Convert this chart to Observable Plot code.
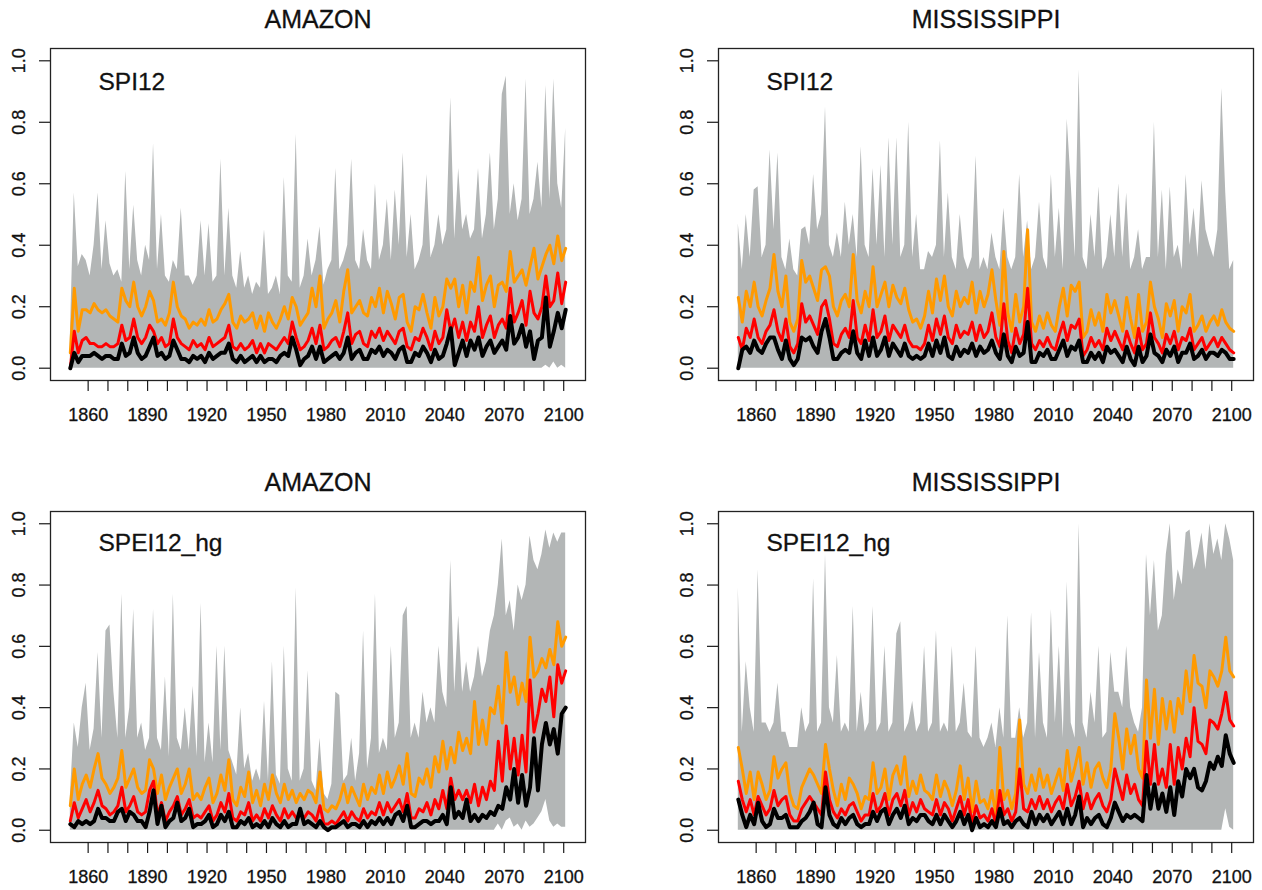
<!DOCTYPE html>
<html>
<head>
<meta charset="utf-8">
<script src="https://cdn.jsdelivr.net/npm/d3@7"></script>
<script src="https://cdn.jsdelivr.net/npm/@observablehq/plot@0.6"></script>
<style>
  html, body { margin: 0; padding: 0; background: #fff; }
  #chart { position: relative; width: 1262px; height: 890px; background: #fff; }
  #chart > svg { position: absolute; }
</style>
</head>
<body>
<div id="chart"></div>
<script>
// ---------------- data (years 1851..2101, every 2nd year) ----------------
const years = d3.range(1851, 2102, 2);
const xTicks = d3.range(1860, 2101, 10);
const xLabels = [1860, 1890, 1920, 1950, 1980, 2010, 2040, 2070, 2100];
const yTicks = [0, 0.2, 0.4, 0.6, 0.8, 1.0];
const yLabels = ["0.0", "0.2", "0.4", "0.6", "0.8", "1.0"];

// AMAZON SPI12
const amzSpiHi = [
  .10,.57,.33,.37,.35,.30,.40,.57,.32,.48,
  .34,.30,.32,.28,.64,.32,.53,.35,.30,.40,
  .35,.73,.32,.50,.30,.28,.35,.32,.52,.30,
  .30,.27,.30,.48,.30,.47,.28,.30,.68,.30,
  .52,.30,.26,.38,.26,.30,.24,.28,.26,.45,
  .24,.26,.30,.24,.62,.30,.28,.76,.26,.30,
  .42,.30,.35,.46,.27,.32,.35,.65,.32,.35,
  .40,.68,.35,.32,.45,.35,.32,.60,.35,.40,
  .55,.35,.58,.40,.70,.36,.50,.32,.35,.40,
  .63,.36,.40,.50,.40,.45,.88,.42,.65,.45,
  .50,.42,.45,.65,.42,.50,.70,.45,.55,.89,
  .95,.50,.60,.48,.55,.94,.50,.55,.67,.52,
  .92,.55,.94,.60,.52,.78];
const amzSpiLo = [
  0,0,0,0,0,0,0,0,0,0,
  0,0,0,0,0,0,0,0,0,0,
  0,0,0,0,0,0,0,0,0,0,
  0,0,0,0,0,0,0,0,0,0,
  0,0,0,0,0,0,0,0,0,0,
  0,0,0,0,0,0,0,0,0,0,
  0,0,0,0,0,0,0,0,0,0,
  0,0,0,0,0,0,0,0,0,0,
  0,0,0,0,0,0,0,0,0,0,
  0,0,0,0,0,0,0,0,0,0,
  0,0,0,0,0,0,0,0,0,0,
  0,0,0,0,0,0,0,0,0,0,
  .01,0,.02,0,.01,0];
const amzSpiOrange = [
  .05,.26,.12,.19,.19,.18,.21,.19,.18,.19,
  .17,.16,.15,.26,.22,.20,.28,.20,.17,.20,
  .25,.22,.15,.16,.14,.18,.28,.20,.17,.16,
  .13,.15,.14,.16,.14,.19,.15,.16,.19,.21,
  .24,.15,.13,.17,.15,.16,.18,.13,.17,.12,
  .18,.15,.13,.16,.20,.16,.23,.20,.14,.16,
  .18,.26,.20,.30,.13,.16,.18,.22,.15,.25,
  .32,.18,.20,.22,.18,.17,.23,.20,.26,.18,
  .25,.21,.16,.23,.24,.15,.12,.20,.19,.24,
  .18,.13,.23,.17,.20,.29,.26,.29,.20,.27,
  .18,.28,.25,.36,.22,.27,.30,.20,.27,.28,
  .25,.38,.28,.30,.32,.27,.33,.39,.29,.33,
  .37,.40,.34,.43,.35,.39];
const amzSpiRed = [
  .00,.12,.05,.09,.10,.08,.08,.07,.07,.08,
  .07,.07,.08,.14,.09,.10,.16,.10,.08,.10,
  .14,.12,.08,.10,.07,.08,.16,.10,.08,.07,
  .06,.09,.07,.08,.06,.10,.07,.08,.09,.10,
  .14,.07,.06,.08,.06,.07,.09,.05,.08,.05,
  .08,.07,.06,.08,.10,.08,.15,.10,.06,.07,
  .09,.13,.08,.14,.06,.07,.09,.10,.07,.12,
  .18,.08,.11,.12,.08,.07,.12,.10,.13,.09,
  .12,.10,.08,.12,.13,.07,.06,.10,.09,.13,
  .10,.06,.12,.08,.10,.19,.12,.16,.10,.15,
  .09,.15,.12,.20,.10,.14,.17,.10,.14,.16,
  .13,.26,.15,.18,.22,.14,.25,.18,.16,.20,
  .30,.20,.22,.31,.21,.28];
const amzSpiBlack = [
  .00,.05,.02,.04,.04,.04,.05,.04,.03,.04,
  .04,.03,.03,.08,.04,.05,.10,.05,.03,.04,
  .07,.10,.04,.05,.03,.04,.09,.06,.03,.03,
  .02,.04,.03,.04,.02,.05,.03,.04,.05,.05,
  .08,.03,.02,.04,.02,.03,.04,.02,.04,.02,
  .03,.03,.02,.04,.05,.04,.10,.06,.01,.03,
  .04,.07,.03,.07,.02,.03,.04,.05,.03,.05,
  .10,.03,.05,.06,.03,.03,.06,.05,.07,.04,
  .06,.05,.03,.06,.07,.02,.02,.05,.04,.07,
  .05,.02,.06,.03,.04,.08,.13,.01,.05,.09,
  .04,.09,.06,.10,.04,.07,.09,.05,.07,.09,
  .06,.17,.08,.10,.14,.07,.12,.03,.09,.10,
  .23,.07,.12,.18,.13,.19];

// MISSISSIPPI SPI12
const misSpiHi = [
  .47,.32,.50,.36,.58,.59,.36,.40,.71,.45,
  .70,.36,.32,.42,.32,.30,.45,.46,.40,.63,
  .45,.50,.85,.40,.36,.44,.36,.54,.40,.50,
  .36,.72,.40,.36,.65,.40,.66,.36,.75,.40,
  .75,.36,.40,.80,.36,.50,.32,.32,.38,.36,
  .40,.74,.36,.57,.36,.32,.50,.36,.32,.36,
  .69,.32,.36,.32,.44,.36,.32,.52,.36,.32,
  .36,.63,.36,.48,.32,.36,.54,.36,.32,.63,
  .36,.52,.32,.81,.60,.36,.97,.36,.32,.50,
  .36,.59,.32,.36,.50,.36,.60,.36,.57,.32,
  .36,.45,.32,.36,.36,.80,.36,.58,.32,.59,
  .36,.40,.32,.63,.40,.52,.36,.61,.45,.40,
  .36,.45,.91,.57,.32,.35];
const misSpiLo = [
  0,0,0,0,0,0,0,0,0,0,
  0,0,0,0,0,0,0,0,0,0,
  0,0,0,0,0,0,0,0,0,0,
  0,0,0,0,0,0,0,0,0,0,
  0,0,0,0,0,0,0,0,0,0,
  0,0,0,0,0,0,0,0,0,0,
  0,0,0,0,0,0,0,0,0,0,
  0,0,0,0,0,0,0,0,0,0,
  0,0,0,0,0,0,0,0,0,0,
  0,0,0,0,0,0,0,0,0,0,
  0,0,0,0,0,0,0,0,0,0,
  0,0,0,0,0,0,0,0,0,0,
  0,0,0,0,0,0];
const misSpiOrange = [
  .23,.15,.25,.20,.28,.20,.17,.22,.26,.37,
  .25,.20,.30,.15,.12,.16,.35,.28,.30,.26,
  .22,.32,.33,.30,.20,.17,.22,.24,.20,.37,
  .22,.18,.25,.20,.33,.20,.24,.28,.20,.27,
  .23,.21,.26,.19,.15,.16,.13,.17,.25,.18,
  .29,.22,.30,.20,.17,.25,.20,.23,.21,.28,
  .18,.25,.20,.24,.32,.22,.14,.38,.18,.12,
  .24,.15,.20,.45,.15,.12,.17,.13,.18,.14,
  .12,.20,.26,.17,.27,.25,.28,.10,.12,.19,
  .14,.18,.12,.24,.18,.22,.17,.12,.23,.16,
  .10,.24,.12,.15,.28,.20,.16,.10,.21,.17,
  .22,.12,.20,.18,.24,.12,.14,.17,.12,.15,
  .17,.14,.19,.15,.13,.12];
const misSpiRed = [
  .10,.06,.13,.10,.16,.10,.08,.12,.14,.19,
  .12,.09,.16,.07,.05,.08,.21,.15,.17,.14,
  .11,.20,.22,.16,.08,.07,.11,.13,.10,.22,
  .10,.08,.14,.09,.19,.10,.12,.17,.09,.14,
  .12,.10,.14,.09,.07,.07,.06,.08,.14,.09,
  .16,.11,.17,.10,.08,.14,.10,.12,.11,.15,
  .09,.14,.10,.12,.18,.10,.07,.21,.09,.05,
  .13,.08,.11,.26,.08,.06,.09,.07,.10,.07,
  .06,.11,.15,.09,.14,.13,.16,.04,.06,.10,
  .07,.09,.06,.13,.09,.12,.09,.06,.12,.08,
  .05,.13,.06,.08,.18,.10,.08,.05,.11,.08,
  .12,.06,.10,.09,.13,.06,.08,.10,.06,.08,
  .10,.07,.10,.08,.06,.05];
const misSpiBlack = [
  .00,.06,.07,.05,.09,.06,.05,.08,.10,.10,
  .06,.03,.09,.03,.01,.03,.10,.09,.10,.07,
  .05,.12,.16,.10,.03,.03,.05,.06,.05,.12,
  .05,.03,.09,.04,.10,.04,.06,.10,.04,.08,
  .06,.04,.08,.04,.03,.04,.03,.04,.08,.04,
  .09,.05,.10,.04,.03,.07,.04,.06,.05,.08,
  .04,.07,.05,.06,.09,.05,.03,.11,.04,.02,
  .07,.04,.05,.15,.02,.02,.05,.04,.06,.03,
  .03,.06,.09,.04,.07,.06,.09,.02,.02,.05,
  .03,.05,.02,.07,.05,.06,.04,.02,.07,.03,
  .01,.07,.02,.04,.11,.05,.04,.02,.06,.04,
  .07,.02,.05,.05,.08,.03,.04,.06,.03,.05,
  .05,.04,.06,.05,.03,.03];

// AMAZON SPEI12_hg
const amzSpeiHi = [
  .11,.35,.27,.40,.48,.26,.33,.58,.30,.65,
  .67,.45,.30,.77,.30,.40,.72,.30,.35,.26,
  .30,.72,.30,.26,.50,.24,.77,.30,.26,.40,
  .26,.47,.24,.74,.22,.35,.22,.60,.26,.60,
  .26,.22,.18,.40,.20,.25,.16,.20,.16,.42,
  .16,.55,.18,.15,.60,.20,.16,.79,.16,.20,
  .52,.16,.13,.30,.12,.10,.15,.45,.44,.16,
  .18,.30,.16,.25,.65,.20,.30,.77,.25,.30,
  .26,.60,.30,.35,.70,.73,.30,.35,.30,.45,
  .35,.40,.35,.60,.45,.40,.88,.45,.70,.45,
  .55,.45,.50,.60,.50,.55,.65,.70,.80,.95,
  .70,.75,.65,.80,.75,.80,.96,.88,.85,.90,
  .98,.92,.97,.94,.97,.97];
const amzSpeiLo = [
  0,0,0,0,0,0,0,0,0,0,
  0,0,0,0,0,0,0,0,0,0,
  0,0,0,0,0,0,0,0,0,0,
  0,0,0,0,0,0,0,0,0,0,
  0,0,0,0,0,0,0,0,0,0,
  0,0,0,0,0,0,0,0,0,0,
  0,0,0,0,0,0,0,0,0,0,
  0,0,0,0,0,0,0,0,0,0,
  0,0,0,0,0,0,0,0,0,0,
  0,0,0,0,0,0,0,0,0,0,
  0,0,0,0,0,0,0,0,.02,0,
  .03,.04,.01,.02,0,.03,.01,.02,.04,.06,
  .10,.03,.01,.02,.01,.01];
const amzSpeiOrange = [
  .08,.20,.10,.15,.18,.14,.20,.25,.17,.15,
  .12,.14,.17,.26,.14,.17,.20,.14,.12,.13,
  .23,.20,.12,.18,.10,.14,.17,.20,.12,.15,
  .20,.10,.12,.10,.14,.17,.09,.12,.18,.13,
  .23,.10,.08,.14,.11,.19,.09,.13,.08,.15,
  .10,.18,.12,.09,.15,.10,.13,.09,.12,.10,
  .13,.12,.09,.19,.07,.06,.08,.07,.10,.15,
  .09,.14,.11,.08,.15,.10,.14,.12,.18,.12,
  .19,.14,.17,.21,.15,.25,.12,.11,.17,.15,
  .20,.14,.24,.19,.29,.20,.27,.22,.32,.26,
  .30,.25,.42,.28,.36,.28,.40,.38,.47,.35,
  .58,.45,.50,.41,.48,.42,.63,.50,.52,.56,
  .53,.59,.54,.68,.60,.63];
const amzSpeiRed = [
  .03,.09,.04,.07,.10,.06,.09,.13,.08,.07,
  .05,.06,.08,.14,.06,.08,.11,.06,.05,.06,
  .13,.16,.05,.09,.03,.06,.08,.11,.05,.07,
  .10,.04,.05,.04,.06,.08,.03,.05,.09,.06,
  .12,.04,.03,.06,.05,.09,.03,.05,.03,.07,
  .04,.08,.05,.03,.07,.04,.06,.04,.05,.04,
  .06,.05,.03,.08,.02,.02,.03,.02,.04,.06,
  .03,.06,.04,.03,.07,.04,.06,.05,.09,.05,
  .09,.06,.08,.10,.06,.12,.04,.04,.07,.06,
  .09,.05,.10,.07,.13,.07,.17,.10,.13,.10,
  .13,.09,.15,.08,.14,.10,.16,.13,.29,.16,
  .34,.20,.30,.18,.31,.19,.49,.32,.38,.46,
  .42,.50,.37,.54,.48,.52];
const amzSpeiBlack = [
  .02,.01,.03,.02,.03,.02,.03,.07,.04,.04,
  .03,.03,.06,.07,.03,.06,.05,.03,.03,.01,
  .06,.13,.02,.08,.01,.03,.04,.09,.03,.04,
  .07,.01,.02,.02,.03,.05,.01,.02,.05,.03,
  .06,.01,.01,.03,.02,.04,.01,.02,.01,.03,
  .01,.04,.02,.01,.03,.01,.02,.02,.07,.02,
  .03,.02,.01,.03,.01,.00,.01,.01,.02,.03,
  .01,.02,.02,.01,.03,.01,.03,.02,.04,.02,
  .04,.02,.05,.06,.03,.08,.01,.01,.02,.03,
  .03,.02,.03,.03,.05,.02,.14,.04,.06,.04,
  .10,.03,.05,.03,.05,.04,.06,.05,.08,.07,
  .14,.10,.20,.09,.18,.08,.14,.30,.13,.28,
  .35,.28,.33,.25,.38,.40];

// MISSISSIPPI SPEI12_hg
const misSpeiHi = [
  .79,.32,.55,.40,.32,.85,.35,.35,.32,.35,
  .48,.32,.32,.27,.27,.27,.40,.32,.35,.82,
  .32,.35,.90,.40,.35,.57,.32,.35,.32,.73,
  .32,.45,.32,.35,.73,.32,.35,.60,.32,.35,
  .64,.68,.32,.35,.42,.32,.35,.60,.32,.35,
  .65,.32,.35,.32,.60,.32,.35,.48,.32,.30,
  .60,.30,.27,.30,.35,.27,.40,.30,.70,.30,
  .30,.40,.30,.35,.71,.30,.58,.35,.30,.72,
  .35,.60,.30,.81,.35,.30,1.0,.35,.30,.45,
  .35,.60,.30,.32,.58,.45,.45,.40,.60,.40,
  .35,.32,.40,.90,.70,.88,.65,.70,.90,1.0,
  .75,.85,.80,.97,.98,.85,.90,.97,.85,1.0,
  .90,.95,.88,1.0,.95,.88];
const misSpeiLo = [
  0,0,0,0,0,0,0,0,0,0,
  0,0,0,0,0,0,0,0,0,0,
  0,0,0,0,0,0,0,0,0,0,
  0,0,0,0,0,0,0,0,0,0,
  0,0,0,0,0,0,0,0,0,0,
  0,0,0,0,0,0,0,0,0,0,
  0,0,0,0,0,0,0,0,0,0,
  0,0,0,0,0,0,0,0,0,0,
  0,0,0,0,0,0,0,0,0,0,
  0,0,0,0,0,0,0,0,0,0,
  0,0,0,0,0,0,0,0,0,0,
  0,0,0,0,0,0,0,0,0,0,
  0,0,0,.07,.01,0];
const misSpeiOrange = [
  .27,.20,.12,.19,.10,.19,.15,.10,.13,.24,
  .17,.20,.22,.12,.08,.07,.14,.17,.20,.18,
  .15,.12,.28,.20,.13,.08,.15,.10,.17,.15,
  .12,.07,.11,.10,.22,.12,.14,.20,.10,.18,
  .21,.15,.24,.11,.16,.12,.18,.13,.12,.10,
  .18,.11,.16,.13,.08,.13,.21,.10,.17,.06,
  .16,.09,.10,.07,.13,.05,.27,.10,.13,.07,
  .12,.36,.15,.12,.18,.13,.20,.14,.18,.12,
  .16,.20,.13,.26,.16,.21,.27,.15,.22,.14,
  .20,.22,.17,.14,.20,.38,.30,.20,.33,.25,
  .31,.20,.17,.49,.30,.46,.28,.43,.33,.42,
  .32,.43,.38,.52,.42,.57,.48,.47,.40,.52,
  .50,.47,.52,.63,.52,.50];
const misSpeiRed = [
  .16,.10,.06,.10,.05,.11,.08,.05,.07,.13,
  .08,.10,.11,.05,.03,.03,.07,.09,.11,.09,
  .07,.05,.19,.10,.06,.04,.07,.05,.08,.09,
  .06,.03,.05,.05,.12,.06,.08,.12,.05,.10,
  .12,.08,.13,.05,.09,.06,.10,.07,.06,.05,
  .10,.05,.09,.07,.03,.07,.11,.05,.10,.02,
  .08,.04,.05,.03,.07,.02,.13,.05,.07,.03,
  .06,.20,.07,.06,.10,.07,.11,.07,.10,.06,
  .09,.11,.07,.15,.08,.11,.16,.07,.12,.07,
  .10,.12,.08,.06,.10,.20,.15,.10,.18,.12,
  .15,.10,.08,.29,.15,.28,.15,.20,.14,.28,
  .15,.27,.20,.30,.24,.40,.29,.28,.25,.36,
  .35,.33,.38,.45,.36,.34];
const misSpeiBlack = [
  .10,.05,.01,.05,.02,.09,.03,.01,.02,.07,
  .04,.04,.05,.01,.01,.01,.03,.04,.06,.09,
  .02,.01,.14,.05,.02,.01,.04,.02,.04,.05,
  .02,.01,.02,.02,.06,.03,.06,.07,.02,.05,
  .07,.04,.08,.02,.04,.03,.05,.05,.03,.02,
  .05,.02,.05,.03,.01,.03,.06,.02,.05,.00,
  .04,.01,.02,.01,.03,.01,.07,.02,.03,.01,
  .03,.04,.02,.01,.06,.02,.05,.03,.05,.02,
  .04,.06,.02,.07,.02,.05,.11,.01,.04,.02,
  .04,.05,.02,.01,.04,.09,.06,.03,.05,.04,
  .05,.04,.03,.18,.07,.15,.07,.12,.06,.14,
  .05,.16,.11,.20,.17,.20,.14,.13,.16,.22,
  .20,.24,.21,.31,.25,.22];

// ---------------- drawing ----------------
const FONT = "'Liberation Sans', Arial, Helvetica, sans-serif";
const GRAY = "#b3b6b6";
const ORANGE = "#ff9a00";
const RED = "#ff0000";
const INK = "#111";

const panels = [
  {title: "AMAZON", index: "SPI12", hi: amzSpiHi, lo: amzSpiLo, orange: amzSpiOrange, red: amzSpiRed, black: amzSpiBlack,
   left: 0, top: 0, ml: 50, mr: 46, mt: 48, mb: 65, labelDy: 41},
  {title: "MISSISSIPPI", index: "SPI12", hi: misSpiHi, lo: misSpiLo, orange: misSpiOrange, red: misSpiRed, black: misSpiBlack,
   left: 631, top: 0, ml: 87, mr: 9, mt: 48, mb: 65, labelDy: 41},
  {title: "AMAZON", index: "SPEI12_hg", hi: amzSpeiHi, lo: amzSpeiLo, orange: amzSpeiOrange, red: amzSpeiRed, black: amzSpeiBlack,
   left: 0, top: 445, ml: 50, mr: 46, mt: 66, mb: 48, labelDy: 39},
  {title: "MISSISSIPPI", index: "SPEI12_hg", hi: misSpeiHi, lo: misSpeiLo, orange: misSpeiOrange, red: misSpeiRed, black: misSpeiBlack,
   left: 631, top: 445, ml: 87, mr: 9, mt: 66, mb: 48, labelDy: 39}
];

const chart = document.getElementById("chart");

for (const p of panels) {
  const n = Math.min(years.length, p.hi.length, p.lo.length, p.orange.length, p.red.length, p.black.length);
  const rows = years.slice(0, n).map((year, i) => ({
    year, hi: p.hi[i], lo: p.lo[i], orange: p.orange[i], red: p.red[i], black: p.black[i]
  }));
  const txt = {fill: INK, stroke: INK, strokeWidth: 0.3};
  const svg = Plot.plot({
    width: 631,
    height: 445,
    marginLeft: p.ml,
    marginRight: p.mr,
    marginTop: p.mt,
    marginBottom: p.mb,
    x: {domain: [1841, 2111]},
    y: {domain: [-0.04, 1.04]},
    style: {fontFamily: FONT, fontSize: "18px", color: "#1a1a1a", background: "white", overflow: "visible"},
    marks: [
      Plot.area(rows, {x1: "year", y1: "lo", y2: "hi", fill: GRAY, curve: "linear"}),
      Plot.line(rows, {x: "year", y: "orange", stroke: ORANGE, strokeWidth: 3}),
      Plot.line(rows, {x: "year", y: "red", stroke: RED, strokeWidth: 3}),
      Plot.line(rows, {x: "year", y: "black", stroke: "#000", strokeWidth: 4}),
      Plot.frame({stroke: "#222", strokeWidth: 1.3}),
      Plot.axisX({ticks: xTicks, tickSize: 11, tickFormat: () => "", label: null, strokeWidth: 1.2}),
      Plot.axisY({ticks: yTicks, tickSize: 11, tickFormat: () => "", label: null, strokeWidth: 1.2}),
      Plot.text(xLabels, {x: d => d, text: d => String(d), frameAnchor: "bottom", dy: 40, lineAnchor: "bottom", fontSize: 18, ...txt}),
      Plot.text(yTicks, {y: d => d, text: (d, i) => yLabels[i], frameAnchor: "left", dx: -26, rotate: -90,
                         textAnchor: "middle", lineAnchor: "bottom", fontSize: 18, ...txt}),
      Plot.text([p.title], {frameAnchor: "top", dy: -21, lineAnchor: "bottom", fontSize: 25, ...txt}),
      Plot.text([p.index], {frameAnchor: "top-left", dx: 48, dy: p.labelDy, textAnchor: "start", lineAnchor: "bottom", fontSize: 24.5, ...txt})
    ]
  });
  svg.style.left = p.left + "px";
  svg.style.top = p.top + "px";
  chart.appendChild(svg);
}
</script>
</body>
</html>
